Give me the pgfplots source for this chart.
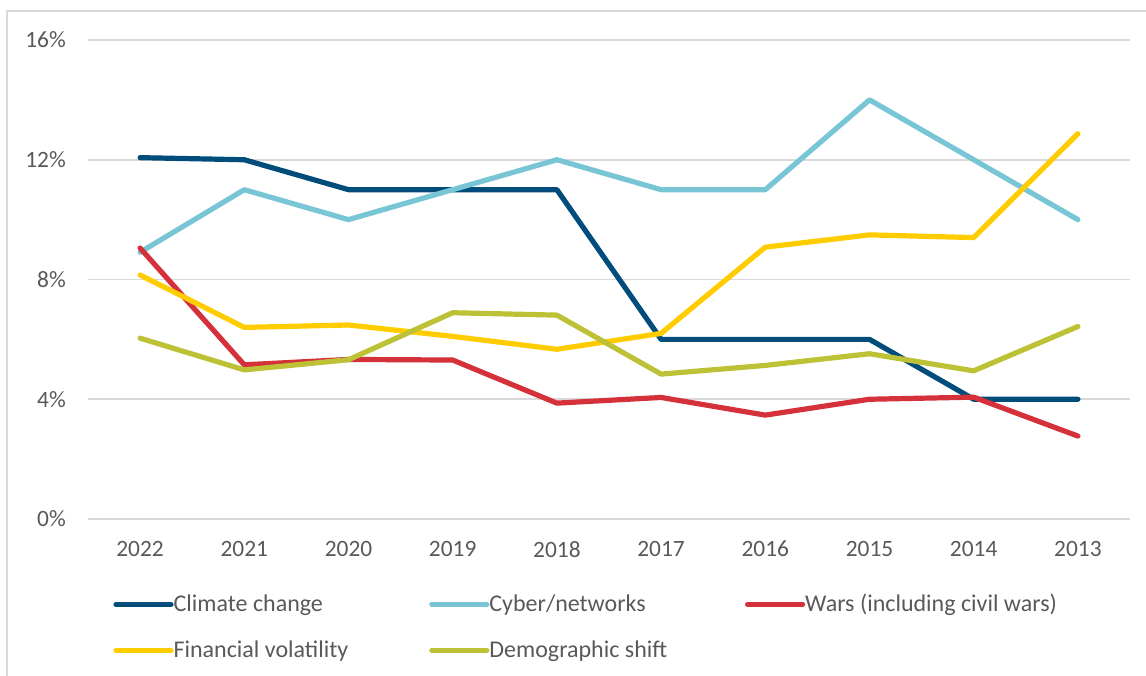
\documentclass[border=0pt]{standalone}
\usepackage{fontspec}
\setmainfont{Carlito}
\usepackage{pgfplots}
\pgfplotsset{compat=1.18}
\definecolor{cclim}{HTML}{004C7A}
\definecolor{ccyb}{HTML}{78C5D6}
\definecolor{cwar}{HTML}{D4313A}
\definecolor{cfin}{HTML}{FFCC00}
\definecolor{cdem}{HTML}{BCC135}
\definecolor{gridgray}{HTML}{D9D9D9}
\definecolor{txtgray}{HTML}{595959}
\begin{document}
\begin{tikzpicture}
\begin{axis}[
  scale only axis, width=521pt, height=239.5pt,
  xmin=-0.5, xmax=9.5, ymin=0, ymax=16,
  xtick={0,...,9},
  xticklabels={2022,2021,2020,2019,2018,2017,2016,2015,2014,2013},
  ytick={0,4,8,12,16},
  yticklabel={\pgfmathprintnumber{\tick}\%},
  /pgf/number format/assume math mode=true,
  ymajorgrids, grid style={color=gridgray, line width=0.8pt},
  axis line style={draw=none},
  major tick length=0pt,
  tick label style={font=\fontsize{11.7}{13}\selectfont, text=txtgray},
  xticklabel style={yshift=-7.5pt},
  yticklabel style={xshift=-7.6pt},
  clip=false,
  legend columns=3,
  legend cell align=left,
  legend style={draw=none, fill=none, inner sep=0pt,
    at={(rel axis cs:0.024,-0.1475)}, anchor=north west,
    font=\fontsize{12}{14}\selectfont, text=txtgray,
    nodes={inner xsep=0pt},
    row sep=9pt},
  legend image code/.code={\draw[#1, line cap=round] (0pt,0pt) -- (27.5pt,0pt);},
  every axis plot/.append style={line width=2.6pt, line join=round, line cap=round},
]
\addplot[cclim] coordinates {(0,12.07) (1,12.0) (2,11.0) (3,11.0) (4,11.0) (5,6.0) (6,6.0) (7,6.0) (8,4.0) (9,4.0)};
\addlegendentry{\makebox[127.8pt][l]{Climate change}}
\addplot[ccyb] coordinates {(0,8.91) (1,11.0) (2,10.0) (3,11.0) (4,12.0) (5,11.0) (6,11.0) (7,14.0) (8,12.0) (9,10.0)};
\addlegendentry{\makebox[127.8pt][l]{Cyber/networks}}
\addplot[cwar] coordinates {(0,9.05) (1,5.15) (2,5.33) (3,5.31) (4,3.87) (5,4.06) (6,3.47) (7,4.0) (8,4.07) (9,2.77)};
\addlegendentry{Wars (including civil wars)}
\addplot[cfin] coordinates {(0,8.15) (1,6.4) (2,6.48) (3,6.1) (4,5.67) (5,6.2) (6,9.08) (7,9.49) (8,9.4) (9,12.87)};
\addlegendentry{\makebox[127.8pt][l]{Financial volatility}}
\addplot[cdem] coordinates {(0,6.04) (1,4.98) (2,5.32) (3,6.89) (4,6.81) (5,4.84) (6,5.13) (7,5.52) (8,4.95) (9,6.43)};
\addlegendentry{\makebox[127.8pt][l]{Demographic shift}}
\draw[gridgray, line width=0.8pt] (rel axis cs:-0.0777,-0.6) -- (rel axis cs:-0.0777,1.0605) -- (rel axis cs:1.2,1.0605);
\coordinate (bbsw) at (rel axis cs:-0.08445,-0.32568);
\coordinate (bbne) at (rel axis cs:1.01536,1.08351);
\end{axis}
\pgfresetboundingbox
\useasboundingbox (bbsw) rectangle (bbne);
\end{tikzpicture}
\end{document}
